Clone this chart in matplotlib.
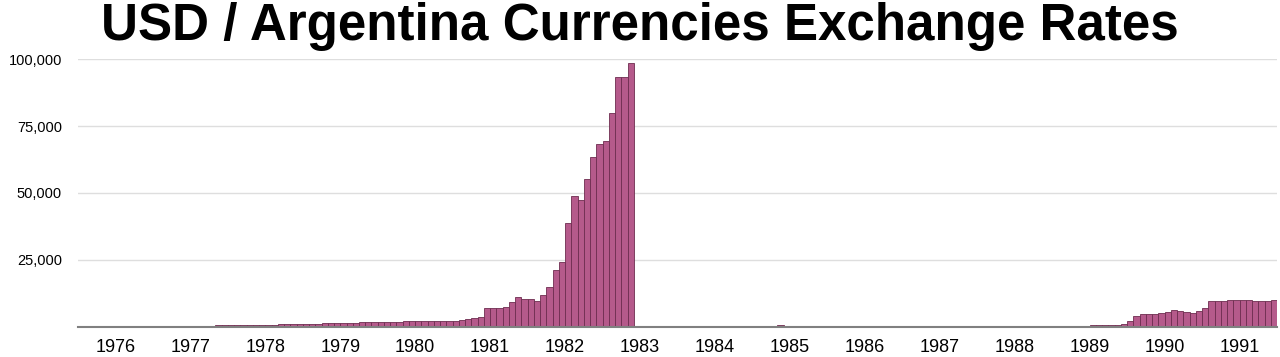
import matplotlib.pyplot as plt
import numpy as np

# Monthly USD rate, Jan 1976 .. Dec 1991 (12 values per row)
years = list(range(1976, 1992))
rates = [
    0, 0, 250, 0, 0, 0, 0, 0, 0, 0, 0, 0,                                       # 1976
    0, 300, 300, 300, 300, 300, 300, 300, 300, 300, 500, 500,                   # 1977
    500, 500, 500, 500, 500, 500, 500, 500, 1000, 1000, 1000, 1000,             # 1978
    1000, 1000, 1000, 1370, 1370, 1370, 1370, 1370, 1370, 1620, 1620, 1620,     # 1979
    1620, 1620, 1620, 1620, 2000, 2000, 2000, 2000, 2000, 2000, 2000, 2000,     # 1980
    2000, 2400, 2770, 3250, 3630, 7100, 7100, 7100, 7500, 9100, 11100, 10300,   # 1981
    10300, 9740, 11700, 14900, 21100, 24300, 38600, 49000, 47450, 55200, 63550, 68160,  # 1982
    69550, 80100, 93400, 93400, 98650, 12, 13, 14, 16, 18, 21, 24,             # 1983
    28, 32, 37, 42, 48, 55, 63, 72, 83, 95, 110, 130,                           # 1984
    150, 190, 250, 350, 450, 1, 1, 1, 1, 1, 1, 1,                               # 1985
    1, 1, 1, 1, 1, 1, 1, 1, 1, 1, 1, 1,                                         # 1986
    2, 2, 2, 2, 2, 2, 3, 3, 3, 3, 4, 4,                                         # 1987
    4, 5, 6, 7, 8, 9, 11, 12, 12, 13, 14, 15,                                   # 1988
    17, 19, 40, 60, 80, 100, 450, 450, 450, 450, 650, 1100,                     # 1989
    2000, 4100, 4740, 4740, 4740, 5000, 5500, 6240, 6000, 5600, 5240, 5870,     # 1990
    7110, 9730, 9730, 9730, 10110, 10110, 10110, 10110, 9730, 9730, 9730, 9980, # 1991
]
y_ticks = [25000, 50000, 75000, 100000]

plt.rcParams['font.family'] = ['Liberation Sans', 'DejaVu Sans']

fig = plt.figure(figsize=(12.8, 3.57), dpi=100)
ax = fig.add_axes([0.0609, 0.0849, 0.9368, 0.7490])

months = np.arange(len(rates))
ax.bar(months, rates, width=1.0, align='edge', color='#b55a8b',
       edgecolor='#6e2d50', linewidth=0.6, zorder=3)

ax.set_xlim(0, len(rates))
ax.set_ylim(0, 100000)

ax.set_yticks(y_ticks)
ax.set_yticklabels([f'{v:,}' for v in y_ticks], fontsize=10.5)
ax.set_xticks([12 * i + 6 for i in range(len(years))])
ax.set_xticklabels([str(y) for y in years], fontsize=13)
ax.tick_params(axis='both', length=0)
ax.tick_params(axis='y', pad=11.5)
ax.tick_params(axis='x', pad=9)

ax.grid(axis='y', color='#dedede', linewidth=1, zorder=0)
for side in ['top', 'right', 'left']:
    ax.spines[side].set_visible(False)
ax.spines['bottom'].set_color('#808080')
ax.spines['bottom'].set_linewidth(1.5)
ax.spines['bottom'].set_zorder(4)

fig.text(0.5, 0.995, 'USD / Argentina Currencies Exchange Rates',
         ha='center', va='top', fontsize=36.8, fontweight='bold')

fig.savefig('out.png', dpi=100)
